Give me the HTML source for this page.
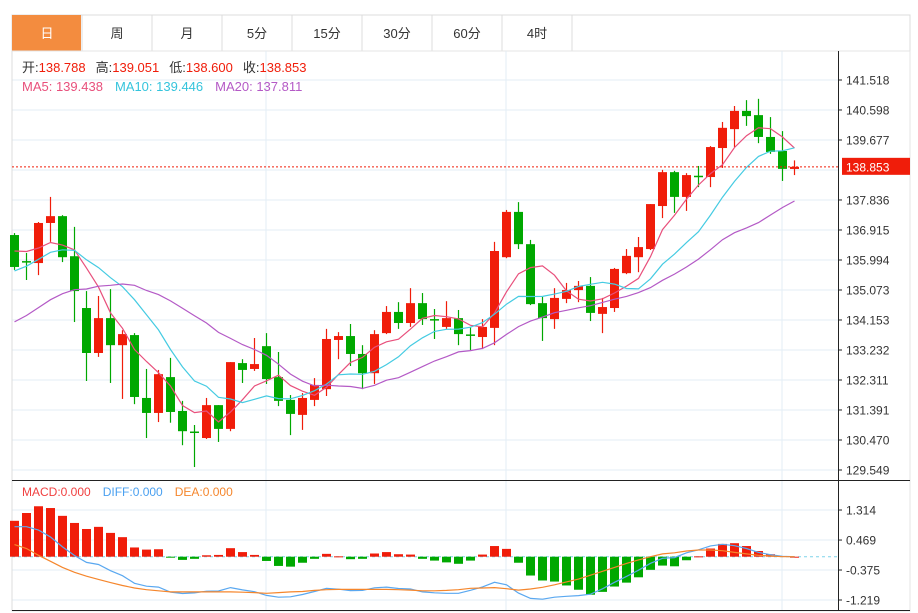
<!DOCTYPE html>
<html><head><meta charset="utf-8"><style>
body{margin:0;background:#fff;font-family:"Liberation Sans","Noto Sans CJK SC",sans-serif;}
svg{display:block}
</style></head><body>
<svg id="chart" width="918" height="613" xmlns="http://www.w3.org/2000/svg" font-family="Liberation Sans, Noto Sans CJK SC, sans-serif">
<g id="tabs"></g>
<g id="grid"></g>
<g id="candles"></g>
<g id="mas"></g>
<g id="macd"></g>
<g id="axes"></g>
<g id="legend">
 <text x="22" y="72" font-size="13" fill="#333">开:<tspan fill="#f01d0a">138.788</tspan><tspan dx="10">高:</tspan><tspan fill="#f01d0a">139.051</tspan><tspan dx="10">低:</tspan><tspan fill="#f01d0a">138.600</tspan><tspan dx="10">收:</tspan><tspan fill="#f01d0a">138.853</tspan></text>
 <text x="22" y="91" font-size="13"><tspan fill="#e8507c">MA5: 139.438</tspan><tspan dx="12" fill="#35c4dc">MA10: 139.446</tspan><tspan dx="12" fill="#b45ac6">MA20: 137.811</tspan></text>
 <text x="22" y="496" font-size="12"><tspan fill="#f04040">MACD:0.000</tspan><tspan dx="12" fill="#4aa0f0">DIFF:0.000</tspan><tspan dx="12" fill="#f5862c">DEA:0.000</tspan></text>
</g>
</svg>
<script>
const opens=[136.76,135.96,135.90,137.13,137.34,136.11,134.52,133.14,134.21,133.38,133.69,131.76,131.30,132.40,131.36,130.73,130.53,131.54,130.81,132.83,132.65,133.35,132.40,131.70,131.24,131.70,132.03,133.54,133.66,133.11,132.52,133.75,134.40,134.06,134.67,134.18,133.94,134.21,133.71,133.63,133.91,136.08,137.47,136.48,134.67,134.18,134.80,135.07,135.20,134.34,134.52,135.59,136.08,136.33,137.65,138.69,137.93,138.58,138.54,139.43,140.01,140.57,140.44,139.77,139.34,138.788];
const closes=[135.78,135.93,137.13,137.34,136.08,135.04,133.14,134.21,133.38,133.72,131.79,131.30,132.49,131.33,130.74,130.70,131.54,130.81,132.86,132.62,132.80,132.34,131.67,131.27,131.76,132.16,133.57,133.66,133.11,132.52,133.72,134.40,134.06,134.67,134.18,134.15,134.21,133.72,133.69,133.94,136.27,137.47,136.48,134.64,134.21,134.83,135.07,135.20,134.37,134.55,135.72,136.12,136.39,137.71,138.69,137.93,138.60,138.55,139.46,140.05,140.57,140.41,139.77,139.31,138.79,138.853];
const highs=[136.82,136.21,137.16,137.93,137.37,137.01,135.04,134.89,135.10,133.84,133.75,132.65,132.62,132.99,131.67,130.93,131.76,131.54,132.86,132.95,133.60,133.75,133.17,131.85,131.91,132.37,133.88,133.78,134.03,133.38,133.84,134.58,134.70,135.13,134.98,134.49,134.73,134.46,133.94,134.18,136.55,137.53,137.77,136.61,134.86,135.13,135.29,135.35,135.47,134.83,135.75,136.33,136.70,137.71,138.76,138.73,138.66,138.88,139.49,140.23,140.72,140.90,140.94,140.38,139.95,139.051];
const lows=[135.69,135.38,135.53,136.55,135.93,134.09,132.28,133.02,132.22,131.73,131.57,130.53,131.02,131.00,130.31,129.64,130.50,130.41,130.74,132.22,132.59,132.19,131.51,130.62,130.78,131.51,131.82,132.95,132.74,132.03,132.19,133.72,133.88,133.94,134.00,133.57,133.88,133.38,133.23,133.26,133.38,136.05,136.33,134.61,133.51,133.88,134.67,134.70,134.12,133.75,134.40,135.56,135.62,136.30,137.28,137.44,137.50,138.23,138.23,138.82,139.46,140.11,139.58,139.25,138.42,138.600];
const priorCloses=[132.0,132.3,132.5,132.4,132.6,132.7,132.5,132.8,132.9,132.6,134.5,135.0,135.2,135.3,135.25,136.0,136.6,136.5,136.47];
const macdHist=[1.01,1.23,1.42,1.37,1.15,0.95,0.78,0.84,0.67,0.55,0.26,0.20,0.21,-0.02,-0.09,-0.06,0.04,0.05,0.24,0.13,0.05,-0.12,-0.26,-0.28,-0.17,-0.06,0.08,0.01,-0.07,-0.06,0.09,0.13,0.07,0.06,-0.06,-0.11,-0.16,-0.20,-0.11,0.06,0.30,0.22,-0.17,-0.53,-0.67,-0.70,-0.81,-0.93,-1.07,-0.99,-0.84,-0.73,-0.58,-0.37,-0.25,-0.27,-0.10,0.01,0.23,0.36,0.38,0.30,0.16,0.07,0.02,0.00];
const deaVals=[0.34,0.23,0.04,-0.13,-0.30,-0.44,-0.55,-0.64,-0.73,-0.81,-0.88,-0.93,-0.96,-0.99,-0.99,-0.99,-0.99,-0.99,-0.99,-1.00,-1.01,-1.03,-1.01,-0.99,-0.98,-0.95,-0.93,-0.92,-0.92,-0.92,-0.92,-0.92,-0.93,-0.94,-0.96,-0.96,-0.95,-0.93,-0.89,-0.88,-0.87,-0.90,-0.94,-0.91,-0.86,-0.79,-0.71,-0.63,-0.52,-0.41,-0.30,-0.19,-0.09,0.00,0.08,0.11,0.16,0.19,0.19,0.17,0.12,0.08,0.04,0.02,0.00,0.00];
const priceTicks=["141.518","140.598","139.677","138.757","137.836","136.915","135.994","135.073","134.153","133.232","132.311","131.391","130.470","129.549"];
const macdTicks=["1.314","0.469","-0.375","-1.219"];
const tabLabels=["日","周","月","5分","15分","30分","60分","4时"];
const lastPrice=138.853;

const NS="http://www.w3.org/2000/svg";
function mk(tag,attrs,parent){const e=document.createElementNS(NS,tag);for(const k in attrs)e.setAttribute(k,attrs[k]);parent.appendChild(e);return e;}
const RED="#f01d0a",GREEN="#00a800";
const pMax=141.518,pMin=129.549,yTop=80,yBot=470;
const X=i=>14.5+12*i;
const Y=p=>yTop+(pMax-p)*(yBot-yTop)/(pMax-pMin);
const mZero=556.7,mScale=30/0.8445;
const MY=v=>mZero-v*mScale;

// tabs
const tabs=document.getElementById('tabs');
mk('rect',{x:12,y:15,width:898,height:36,fill:'#fff',stroke:'#dcdcdc'},tabs);
tabLabels.forEach((t,i)=>{
  const g=mk('g',{},tabs);
  
  
  const x=12+70*i;
  if(i===0) mk('rect',{x:12,y:15,width:69,height:36,fill:'#f38c3f'},g);
  mk('line',{x1:x+70,y1:15,x2:x+70,y2:51,stroke:'#dcdcdc'},g);
  const tx=mk('text',{x:x+35,y:38,'text-anchor':'middle','font-size':13,fill:i===0?'#fff':'#333'},g);
  tx.textContent=t;
});

// grid
const grid=document.getElementById('grid');
mk('rect',{x:12,y:51,width:898,height:560,fill:'none',stroke:'#e4e4e4'},grid);
priceTicks.forEach(t=>{const y=Y(parseFloat(t));mk('line',{x1:12,y1:y,x2:838,y2:y,stroke:'#e3edf5'},grid);});
macdTicks.forEach(t=>{const y=MY(parseFloat(t));mk('line',{x1:12,y1:y,x2:838,y2:y,stroke:'#e3edf5'},grid);});
[266,506,782].forEach(x=>{mk('line',{x1:x,y1:51,x2:x,y2:611,stroke:'#e3edf5'},grid);});
mk('line',{x1:12,y1:51,x2:12,y2:611,stroke:'#dcdcdc'},grid);

// candles
const cg=document.getElementById('candles');
opens.forEach((o,i)=>{
  const c=closes[i],up=c>=o,col=up?RED:GREEN,x=X(i);
  const g=mk('g',{},cg);
  
  
  mk('line',{x1:x,y1:Y(highs[i]),x2:x,y2:Y(lows[i]),stroke:col,'stroke-width':1.2},g);
  const t=Y(Math.max(o,c)),b=Y(Math.min(o,c));
  mk('rect',{x:x-4.5,y:t,width:9,height:Math.max(b-t,1.5),fill:col},g);
});

// MA
const all=priorCloses.concat(closes),off=priorCloses.length;
function ma(n){return closes.map((_,i)=>{let s=0;for(let k=0;k<n;k++)s+=all[off+i-k];return s/n;});}
const mg=document.getElementById('mas');
[[5,'#e8507c','ma5-line'],[10,'#45cbe2','ma10-line'],[20,'#b45ac6','ma20-line']].forEach(([n,col,name])=>{
  const pts=ma(n).map((v,i)=>X(i).toFixed(1)+','+Y(v).toFixed(1)).join(' ');
  const p=mk('polyline',{points:pts,fill:'none',stroke:col,'stroke-width':1.2},mg);
  
  
});
const pl=mk('line',{x1:12,y1:Y(lastPrice),x2:838,y2:Y(lastPrice),stroke:RED,'stroke-dasharray':'2,2'},mg);



// MACD
const mcg=document.getElementById('macd');
mk('line',{x1:12,y1:480.5,x2:910,y2:480.5,stroke:'#222'},mcg);
mk('line',{x1:12,y1:610.5,x2:910,y2:610.5,stroke:'#222'},mcg);
const zl=mk('line',{x1:12,y1:mZero,x2:838,y2:mZero,stroke:'#7fd3ea','stroke-dasharray':'3,3'},mcg);


macdHist.forEach((v,i)=>{
  const y=MY(v),t=Math.min(y,mZero),h=Math.max(Math.abs(y-mZero),1);
  const r=mk('rect',{x:X(i)-4.5,y:t,width:9,height:h,fill:v>=0?RED:GREEN},mcg);
  
  
});
const diffVals=deaVals.map((d,i)=>d+macdHist[i]/2);
[[diffVals,'#5aa8f0','diff-line'],[deaVals,'#f5862c','dea-line']].forEach(([arr,col,name])=>{
  const p=mk('polyline',{points:arr.map((v,i)=>X(i).toFixed(1)+','+MY(v).toFixed(1)).join(' '),fill:'none',stroke:col,'stroke-width':1.2},mcg);
  
  
});

// axes
const ax=document.getElementById('axes');
mk('line',{x1:838.5,y1:51,x2:838.5,y2:611,stroke:'#222'},ax);
priceTicks.forEach(t=>{
  const y=Y(parseFloat(t));
  if(Math.abs(y-Y(lastPrice))<10)return;
  mk('line',{x1:838,y1:y,x2:842,y2:y,stroke:'#222'},ax);
  const tx=mk('text',{x:846,y:y+4.5,'font-size':12,fill:'#333'},ax);
  
  
  tx.textContent=t;
});
macdTicks.forEach(t=>{
  const y=MY(parseFloat(t));
  mk('line',{x1:838,y1:y,x2:842,y2:y,stroke:'#222'},ax);
  const tx=mk('text',{x:846,y:y+4.5,'font-size':12,fill:'#333'},ax);
  
  
  tx.textContent=t;
});
const ly=Y(lastPrice);
const lb=mk('rect',{x:842,y:ly-9,width:68,height:17,fill:RED},ax);


const lt=mk('text',{x:846,y:ly+4.5,'font-size':12,fill:'#fff'},ax);


lt.textContent=lastPrice.toFixed(3);
</script>
</body></html>
